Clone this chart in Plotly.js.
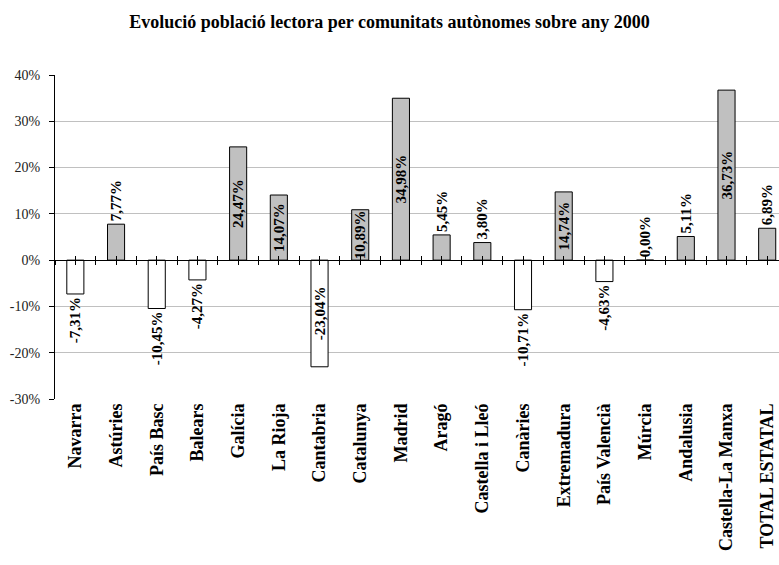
<!DOCTYPE html>
<html>
<head>
<meta charset="utf-8">
<script src="https://cdn.plot.ly/plotly-3.0.1.min.js"></script>
<style>
  html, body { margin: 0; padding: 0; background: #fff; overflow: hidden; }
  #chart { width: 779px; height: 565px; }
</style>
</head>
<body>
<div id="chart"></div>
<script>
// Comunitats autònomes, in display order
const comunitats = [
  'Navarra', 'Astúries', 'País Basc', 'Balears', 'Galícia', 'La Rioja',
  'Cantabria', 'Catalunya', 'Madrid', 'Aragó', 'Castella i Lleó', 'Canàries',
  'Extremadura', 'País Valencià', 'Múrcia', 'Andalusia', 'Castella-La Manxa',
  'TOTAL ESTATAL'
];

// Evolució (%) respecte a l'any 2000
const evolucio = [
  -7.31, 7.77, -10.45, -4.27, 24.47, 14.07,
  -23.04, 10.89, 34.98, 5.45, 3.80, -10.71,
  14.74, -4.63, 0.00, 5.11, 36.73,
  6.89
];

// Y axis ticks and their labels
const yTicks = [-30, -20, -10, 0, 10, 20, 30, 40];
const yTickText = yTicks.map(v => v + '%');

const serif = '"Liberation Serif", "Times New Roman", serif';

// Fill: grey for growth, white for decline
const fills = evolucio.map(v => (v < 0 ? '#ffffff' : '#c0c0c0'));
// Labels sit inside the bar when it is long enough, otherwise beyond its end
const textPos = evolucio.map(v => (Math.abs(v) >= 10.8 ? 'inside' : 'outside'));

const xRange = [-0.5, 17.29];
const yRange = [-30, 40];
// Half-category tick positions for the axis drawn at 0%
const halfTicks = [];
for (let i = 0; i <= comunitats.length * 2; i++) halfTicks.push(-0.5 + i * 0.5);
const zeroPos = (0 - yRange[0]) / (yRange[1] - yRange[0]);

const traces = [
  {
    type: 'bar',
    x: comunitats,
    y: evolucio,
    width: 0.42,
    marker: { color: fills, line: { color: '#000', width: 1 } },
    texttemplate: '%{y:.2f}%',
    textposition: textPos,
    insidetextanchor: 'middle',
    textangle: -90,
    constraintext: 'none',
    cliponaxis: false,
    textfont: { family: serif, size: 15, color: '#000', weight: 'bold' },
    hoverinfo: 'skip'
  },
  // carriers for the two tick axes on the 0% line
  { type: 'scatter', x: [], y: [], xaxis: 'x2', yaxis: 'y', hoverinfo: 'skip', showlegend: false },
  { type: 'scatter', x: [], y: [], xaxis: 'x3', yaxis: 'y', hoverinfo: 'skip', showlegend: false }
];

const tickAxis = (dir) => ({
  overlaying: 'x',
  anchor: 'free',
  position: zeroPos,
  range: xRange,
  tickmode: 'array',
  tickvals: halfTicks,
  showticklabels: false,
  ticks: dir,
  ticklen: 4,
  tickwidth: 1,
  tickcolor: '#000',
  showline: true,
  linecolor: '#000',
  linewidth: 1,
  showgrid: false,
  zeroline: false,
  fixedrange: true
});

const layout = {
  width: 779,
  height: 565,
  margin: { l: 55, r: 0, t: 75, b: 166 },
  paper_bgcolor: '#fff',
  plot_bgcolor: '#fff',
  separators: ',.',
  showlegend: false,
  title: {
    text: 'Evolució població lectora per comunitats autònomes sobre any 2000',
    font: { family: serif, size: 18, color: '#000', weight: 'bold' },
    x: 0.5,
    xref: 'container',
    xanchor: 'center',
    y: 1 - 22 / 565,
    yref: 'container',
    yanchor: 'middle'
  },
  xaxis: {
    type: 'category',
    range: xRange,
    tickangle: -90,
    tickfont: { family: serif, size: 18, color: '#000', weight: 'bold' },
    ticks: '',
    showline: false,
    showgrid: false,
    zeroline: false,
    fixedrange: true
  },
  xaxis2: tickAxis('outside'),
  xaxis3: tickAxis('inside'),
  yaxis: {
    range: yRange,
    tickmode: 'array',
    tickvals: yTicks,
    ticktext: yTickText,
    tickfont: { family: serif, size: 14, color: '#222' },
    ticks: 'outside',
    ticklen: 5,
    tickwidth: 1,
    tickcolor: '#000',
    ticklabelstandoff: 6,
    showline: true,
    linecolor: '#000',
    linewidth: 1,
    showgrid: true,
    gridcolor: '#c0c0c0',
    gridwidth: 1,
    zeroline: false,
    fixedrange: true
  }
};

Plotly.newPlot('chart', traces, layout, { displayModeBar: false, staticPlot: true });
</script>
</body>
</html>
